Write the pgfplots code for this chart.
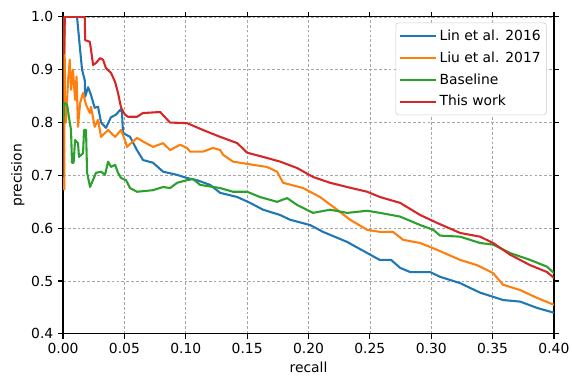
\documentclass[border=0pt]{standalone}
\usepackage{pgfplots}
\pgfplotsset{compat=1.18}
\usepackage{fontspec}
\setmainfont{DejaVu Sans}
\definecolor{tabblue}{HTML}{1F77B4}
\definecolor{taborange}{HTML}{FF7F0E}
\definecolor{tabgreen}{HTML}{2CA02C}
\definecolor{tabred}{HTML}{D62728}
\begin{document}
\begin{tikzpicture}
\useasboundingbox (-45.4pt,-31.7pt) rectangle (366.5pt,240.4pt);
\begin{axis}[
  at={(0,0)}, anchor=south west,
  scale only axis, width=353.5pt, height=228.2pt,
  xmin=0, xmax=0.4, ymin=0.4, ymax=1.0,
  xtick={0,0.05,...,0.401}, ytick={0.4,0.5,...,1.01},
  xticklabel style={/pgf/number format/.cd, fixed, fixed zerofill, precision=2},
  yticklabel style={/pgf/number format/.cd, fixed, fixed zerofill, precision=1},
  /pgf/number format/assume math mode=true,
  scaled x ticks=false, scaled y ticks=false,
  tick align=outside, major tick length=3.5pt,
  every tick/.style={black, line width=0.8pt},
  axis line style={line width=0.8pt},
  tick label style={font=\fontsize{10}{12}\selectfont},
  label style={font=\fontsize{10}{12}\selectfont},
  xlabel={recall}, ylabel={precision},
  xlabel style={yshift=1pt},
  ylabel style={yshift=-2pt},
  grid=major,
  major grid style={gray!70, dashed, line width=0.5pt, dash pattern=on 2pt off 1.5pt},
  legend cell align=left,
  legend style={at={(0.985,0.982)}, anchor=north east, draw=black!20, rounded corners=2pt,
    fill=white, font=\fontsize{10}{12}\selectfont, inner xsep=2pt, inner ysep=3pt, row sep=2.6pt},
  legend image code/.code={\draw[#1] (0pt,0pt) -- (22.5pt,0pt); \path (0pt,0pt) -- (26pt,0pt);},
  every axis plot/.append style={line width=1.5pt, line join=round},
]
\addplot[tabblue] coordinates {
(0.0114,1.0)(0.0139,0.938)(0.0155,0.90)(0.0177,0.88)(0.018,0.849)(0.0204,0.867)
(0.0228,0.852)(0.0258,0.828)(0.0285,0.83)(0.031,0.80)(0.035,0.79)(0.039,0.81)
(0.0432,0.815)(0.0465,0.824)(0.048,0.82)(0.0489,0.78)(0.0546,0.773)(0.0602,0.748)
(0.0652,0.729)(0.0733,0.724)(0.0815,0.707)(0.093,0.701)(0.101,0.695)(0.109,0.691)
(0.1198,0.682)(0.128,0.667)(0.142,0.659)(0.1524,0.648)(0.163,0.635)(0.1769,0.625)
(0.185,0.616)(0.2013,0.606)(0.2119,0.593)(0.2315,0.574)(0.2478,0.553)(0.258,0.54)
(0.2673,0.54)(0.2746,0.525)(0.2828,0.517)(0.2991,0.517)(0.3072,0.508)(0.3235,0.496)
(0.3398,0.478)(0.3586,0.464)(0.3725,0.461)(0.3863,0.449)(0.4,0.44)
};
\addlegendentry{Lin et al. 2016}
\addplot[taborange] coordinates {
(0.0010,0.672)(0.0012,1.0)(0.0016,0.80)(0.0024,0.80)(0.0041,0.88)(0.0055,0.919)
(0.0065,0.862)(0.0081,0.90)(0.0098,0.843)(0.011,0.887)(0.0122,0.792)(0.0139,0.837)
(0.0163,0.856)(0.0187,0.834)(0.0218,0.818)(0.0228,0.83)(0.0258,0.792)(0.0285,0.805)
(0.031,0.773)(0.0367,0.786)(0.0424,0.773)(0.0473,0.786)(0.0513,0.761)(0.052,0.754)
(0.0603,0.771)(0.0652,0.764)(0.0733,0.754)(0.0815,0.761)(0.0872,0.748)(0.0954,0.758)
(0.101,0.752)(0.1035,0.745)(0.114,0.745)(0.1222,0.752)(0.128,0.748)(0.1304,0.739)
(0.1385,0.726)(0.144,0.724)(0.1548,0.72)(0.1662,0.716)(0.1744,0.707)(0.1793,0.686)
(0.1956,0.676)(0.2094,0.659)(0.2233,0.635)(0.2339,0.616)(0.2478,0.597)(0.2583,0.593)
(0.2689,0.593)(0.2771,0.578)(0.291,0.572)(0.3048,0.559)(0.3235,0.54)(0.3374,0.53)
(0.3504,0.515)(0.3585,0.493)(0.3724,0.483)(0.3862,0.468)(0.4,0.455)
};
\addlegendentry{Liu et al. 2017}
\addplot[tabgreen] coordinates {
(0.0004,0.80)(0.0008,0.837)(0.0033,0.834)(0.0055,0.80)(0.0065,0.786)(0.0073,0.724)
(0.0086,0.724)(0.0098,0.767)(0.0122,0.761)(0.013,0.735)(0.0163,0.742)(0.0171,0.786)
(0.0187,0.786)(0.0196,0.705)(0.022,0.678)(0.0269,0.705)(0.031,0.707)(0.0342,0.701)
(0.0367,0.726)(0.0391,0.716)(0.0424,0.72)(0.0448,0.705)(0.0473,0.695)(0.0513,0.691)
(0.0546,0.676)(0.0603,0.669)(0.0733,0.672)(0.0815,0.678)(0.0872,0.676)(0.093,0.686)
(0.101,0.691)(0.106,0.693)(0.1117,0.682)(0.128,0.676)(0.1385,0.669)(0.15,0.669)
(0.1605,0.659)(0.1744,0.65)(0.1826,0.657)(0.1907,0.644)(0.2037,0.629)(0.2176,0.635)
(0.2315,0.629)(0.2478,0.633)(0.2583,0.629)(0.2746,0.622)(0.291,0.606)(0.3016,0.597)
(0.3072,0.586)(0.3235,0.584)(0.3398,0.572)(0.3504,0.569)(0.3642,0.553)(0.3806,0.54)
(0.3944,0.527)(0.4,0.515)
};
\addlegendentry{Baseline}
\addplot[tabred] coordinates {
(0.0008,0.93)(0.0015,1.0)(0.0177,1.0)(0.018,0.956)(0.0218,0.953)(0.0228,0.938)
(0.0245,0.909)(0.0269,0.913)(0.0302,0.922)(0.0326,0.919)(0.035,0.903)(0.0391,0.894)
(0.0424,0.877)(0.0448,0.856)(0.0473,0.828)(0.0505,0.815)(0.0529,0.811)(0.0603,0.811)
(0.065,0.818)(0.0791,0.82)(0.0872,0.80)(0.101,0.799)(0.114,0.786)(0.128,0.773)
(0.142,0.761)(0.15,0.743)(0.1662,0.733)(0.1769,0.726)(0.1907,0.714)(0.2037,0.697)
(0.2176,0.686)(0.2315,0.678)(0.2478,0.669)(0.2583,0.659)(0.2746,0.648)(0.291,0.625)
(0.3048,0.61)(0.3235,0.591)(0.3398,0.584)(0.3504,0.572)(0.3642,0.55)(0.3806,0.53)
(0.3944,0.517)(0.4,0.506)
};
\addlegendentry{This work}
\end{axis}
\end{tikzpicture}
\end{document}
